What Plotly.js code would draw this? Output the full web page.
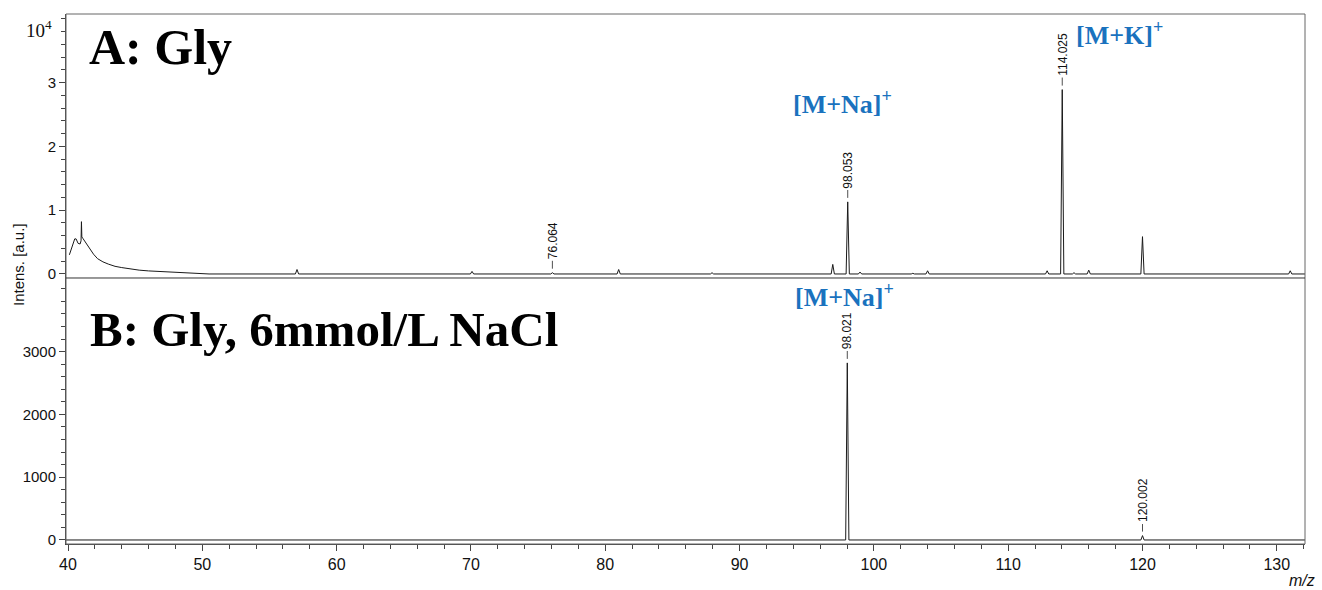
<!DOCTYPE html>
<html>
<head>
<meta charset="utf-8">
<script src="https://cdn.plot.ly/plotly-3.0.1.min.js"></script>
<style>html,body{margin:0;padding:0;background:#fff;}#chart{width:1322px;height:590px;}</style>
</head>
<body>
<div id="chart"></div>
<script>
// ---- Panel A (Gly), intensities in units of 10^4 ----
const humpMzA  = [40.1,40.3,40.5,40.6,40.75,40.9,40.97,41.0,41.03,41.1,41.3,41.6,41.9,42.2,42.6,43.0,43.5,44.0,44.6,45.3,46.0,47.0,48.0,49.0,50.0];
const humpIntA = [0.30,0.44,0.55,0.55,0.48,0.47,0.52,0.82,0.58,0.56,0.50,0.40,0.31,0.24,0.19,0.155,0.12,0.10,0.08,0.06,0.048,0.035,0.022,0.01,0.004];
const peakMzA  = [57.05,70.08,76.064,81.0,87.95,96.94,98.053,98.97,102.9,104.0,112.9,114.025,114.9,116.0,120.0,131.0];
const peakIntA = [0.07,0.04,0.02,0.07,0.02,0.15,1.13,0.03,0.01,0.05,0.05,2.89,0.02,0.06,0.585,0.05];
const labelMzA   = [76.064, 98.053, 114.025];
const labelIntA  = [0.02, 1.13, 2.89];
const labelTextA = ["76.064", "98.053", "114.025"];

// ---- Panel B (Gly, 6 mmol/L NaCl), intensities in counts ----
const peakMzB  = [98.021, 120.002];
const peakIntB = [2820, 70];
const labelMzB   = [98.021, 120.002];
const labelIntB  = [2820, 70];
const labelTextB = ["98.021", "120.002"];

const xRange = [39.85, 132.1];
const hw = 0.12;

function buildSpectrum(hMz, hInt, pMz, pInt, xr) {
  const x = [], y = [];
  if (hMz.length) {
    for (let i = 0; i < hMz.length; i++) { x.push(hMz[i]); y.push(hInt[i]); }
    x.push(hMz[hMz.length-1] + 0.5); y.push(0);
  } else { x.push(xr[0]); y.push(0); }
  for (let i = 0; i < pMz.length; i++) {
    x.push(pMz[i]-hw, pMz[i], pMz[i]+hw);
    y.push(0, pInt[i], 0);
  }
  x.push(xr[1]); y.push(0);
  return {x, y};
}

const sA = buildSpectrum(humpMzA, humpIntA, peakMzA, peakIntA, xRange);
const sB = buildSpectrum([], [], peakMzB, peakIntB, xRange);

const lineStyle = {color: '#1a1a1a', width: 1};
const traces = [
  {x: sA.x, y: sA.y, xaxis: 'x', yaxis: 'y', mode: 'lines', line: lineStyle, hoverinfo: 'x+y'},
  {x: sB.x, y: sB.y, xaxis: 'x', yaxis: 'y2', mode: 'lines', line: lineStyle, hoverinfo: 'x+y'}
];

const annotations = [];
function peakLabel(mz, h, txt, yref) {
  const w = txt.length * 6.3;
  annotations.push({
    x: mz, y: h, xref: 'x', yref: yref, text: txt, textangle: -90,
    showarrow: true, arrowhead: 0, arrowwidth: 0.8, arrowcolor: '#222',
    ax: 0, ay: -(12 + w/2 + 1), standoff: 4,
    font: {family: 'Liberation Sans, Arial, sans-serif', size: 12, color: '#111'}
  });
}
labelMzA.forEach((m, i) => peakLabel(m, labelIntA[i], labelTextA[i], 'y'));
labelMzB.forEach((m, i) => peakLabel(m, labelIntB[i], labelTextB[i], 'y2'));

const serif = 'Liberation Serif, Times New Roman, serif';
const blue = '#1a72be';
annotations.push(
  {xref: 'paper', yref: 'paper', x: 0.0170, y: 0.9368, xanchor: 'left', yanchor: 'middle', showarrow: false,
   text: '<b>A: Gly</b>', font: {family: serif, size: 50, color: '#000'}},
  {xref: 'paper', yref: 'paper', x: 0.0180, y: 0.4038, xanchor: 'left', yanchor: 'middle', showarrow: false,
   text: '<b>B: Gly, 6mmol/L NaCl</b>', font: {family: serif, size: 49, color: '#000'}},
  {xref: 'x', yref: 'paper', x: 93.8, y: (544-103)/530, xanchor: 'left', yanchor: 'middle', showarrow: false,
   text: '<b>[M+Na]<sup>+</sup></b>', font: {family: serif, size: 26, color: blue}},
  {xref: 'x', yref: 'paper', x: 114.9, y: (544-33)/530, xanchor: 'left', yanchor: 'middle', showarrow: false,
   text: '<b>[M+K]<sup>+</sup></b>', font: {family: serif, size: 26, color: blue}},
  {xref: 'x', yref: 'paper', x: 94.0, y: (544-295)/530, xanchor: 'left', yanchor: 'middle', showarrow: false,
   text: '<b>[M+Na]<sup>+</sup></b>', font: {family: serif, size: 26, color: blue}},
  {xref: 'paper', yref: 'paper', x: 0, y: (544-29)/530, xanchor: 'right', yanchor: 'middle', xshift: -12, showarrow: false,
   text: '10<sup>4</sup>', font: {family: serif, size: 19, color: '#111'}},
  {xref: 'paper', yref: 'paper', x: 0, y: (544-265)/530, xanchor: 'center', yanchor: 'middle', xshift: -48, showarrow: false,
   textangle: -90, text: 'Intens. [a.u.]', font: {family: 'Liberation Sans, Arial, sans-serif', size: 15, color: '#111'}},
  {xref: 'paper', yref: 'paper', x: 1, y: (544-580)/530, xanchor: 'right', yanchor: 'middle', xshift: 12, showarrow: false,
   text: '<i>m/z</i>', font: {family: 'Liberation Sans, Arial, sans-serif', size: 16, color: '#111'}}
);

const axColor = '#444';
const shapes = [
  {type: 'rect', xref: 'paper', yref: 'paper', x0: 0, x1: 1, y0: 0, y1: 1, line: {color: '#666', width: 1}},
  {type: 'line', xref: 'paper', yref: 'paper', x0: 0, x1: 1, y0: 0.5019, y1: 0.5019, line: {color: '#333', width: 1}}
];

const layout = {
  width: 1322, height: 590,
  margin: {l: 66, r: 17, t: 14, b: 46},
  paper_bgcolor: '#fff', plot_bgcolor: '#fff',
  showlegend: false,
  font: {family: 'Liberation Sans, Arial, sans-serif', color: '#111'},
  xaxis: {
    anchor: 'y2', range: xRange, dtick: 10, tick0: 0,
    showgrid: false, zeroline: false, showline: true, linecolor: axColor, linewidth: 1,
    ticks: 'outside', ticklen: 6, tickcolor: axColor, tickfont: {size: 16, color: '#111'},
    minor: {dtick: 2, ticks: 'outside', ticklen: 4, tickcolor: axColor, showgrid: false}
  },
  yaxis: {
    domain: [0.5019, 1], range: [-0.063, 4.075], tickvals: [0, 1, 2, 3],
    showgrid: false, zeroline: false, showline: true, linecolor: axColor, linewidth: 1,
    ticks: 'outside', ticklen: 6, tickcolor: axColor, tickfont: {size: 15, color: '#111'},
    minor: {dtick: 0.2, tick0: 0, ticks: 'outside', ticklen: 4, tickcolor: axColor, showgrid: false}
  },
  yaxis2: {
    domain: [0, 0.5019], range: [-64, 4172], tickvals: [0, 1000, 2000, 3000],
    showgrid: false, zeroline: false, showline: true, linecolor: axColor, linewidth: 1,
    ticks: 'outside', ticklen: 6, tickcolor: axColor, tickfont: {size: 15, color: '#111'},
    minor: {dtick: 200, tick0: 0, ticks: 'outside', ticklen: 4, tickcolor: axColor, showgrid: false}
  },
  shapes: shapes,
  annotations: annotations
};

Plotly.newPlot('chart', traces, layout, {displayModeBar: false, staticPlot: true});
</script>
</body>
</html>
